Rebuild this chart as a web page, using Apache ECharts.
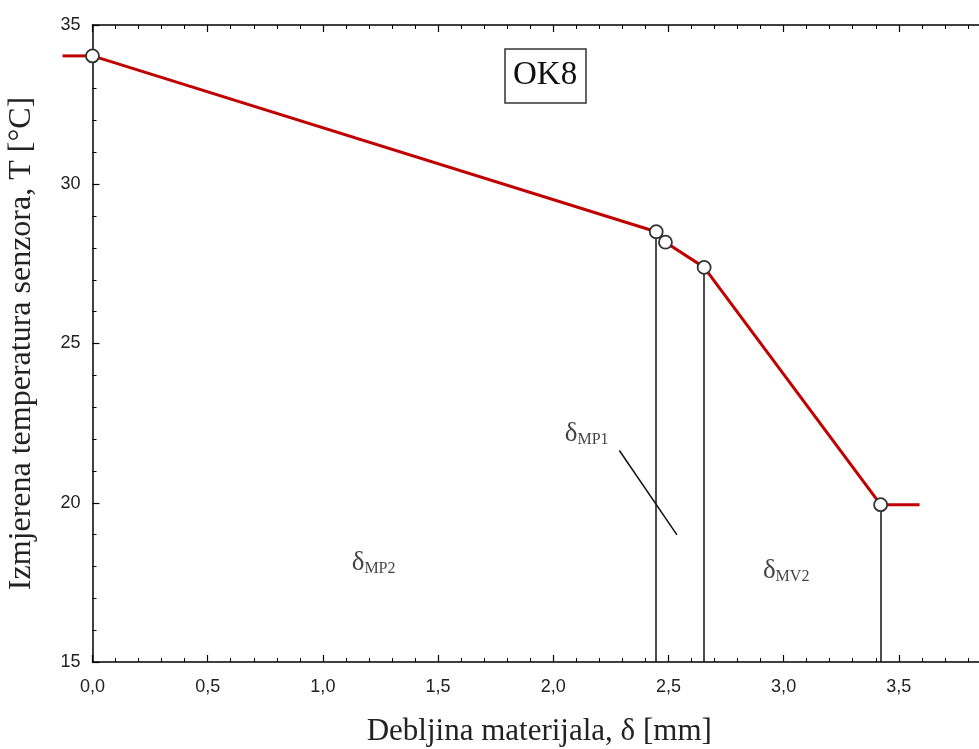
<!DOCTYPE html>
<html>
<head>
<meta charset="utf-8">
<script src="https://cdn.jsdelivr.net/npm/echarts@6/dist/echarts.min.js"></script>
<style>
  html, body { margin: 0; padding: 0; background: #fff; }
  #chart { width: 979px; height: 749px; }
</style>
</head>
<body>
<div id="chart"></div>
<script>
// measured points (thickness in mm, sensor temperature in °C)
const thickness = [0, 2.447, 2.487, 2.655, 3.421]
const temperature = [34.03, 28.51, 28.18, 27.39, 19.94]
// flat ends of the red curve, outside the measured range
const leftEnd = [-0.13, 34.03]
const rightEnd = [3.59, 19.94]
// points that get a drop line down to the x axis
const dropIdx = [1, 3, 4]
// leader line next to δMP1
const pointerFrom = [2.287, 21.64]
const pointerTo = [2.537, 18.99]
// region labels: x, y, subscript
const regionLabels = [
  [2.05, 22.15, "MP1"],
  [1.125, 18.1, "MP2"],
  [2.91, 17.85, "MV2"],
]
const xTicks = { min: 0, max: 4, interval: 0.5 }
const yTicks = { min: 15, max: 35, interval: 5 }

const serif = "'Liberation Serif', 'DejaVu Serif', serif"
const sans = "'Liberation Sans', Arial, sans-serif"
const red = "#c00000"

let myChart = echarts.init(document.getElementById("chart"))

const curve = thickness.map((x, i) => [x, temperature[i]]).concat([rightEnd])

const axisBase = {
  type: "value",
  axisLine: { show: true, lineStyle: { color: "#000", width: 1.5 } },
  axisTick: { show: true, inside: true, length: 7, lineStyle: { color: "#000", width: 1.2 } },
  minorTick: { show: true, splitNumber: 5, length: 4, lineStyle: { color: "#000", width: 1 } },
  splitLine: { show: false },
}

myChart.setOption({
  animation: false,
  grid: { left: 92.5, right: -35, top: 25, bottom: 87, outerBoundsMode: "none" },
  xAxis: [
    Object.assign({}, axisBase, {
      min: xTicks.min,
      max: xTicks.max,
      interval: xTicks.interval,
      position: "bottom",
      axisLabel: {
        color: "#222",
        fontFamily: sans,
        fontSize: 18,
        margin: 16,
        formatter: (v) => v.toFixed(1).replace(".", ","),
      },
      name: "Debljina materijala, δ [mm]",
      nameLocation: "middle",
      nameGap: 54,
      nameTextStyle: { fontFamily: serif, fontSize: 31, color: "#222", padding: [0, 28, 0, 0] },
    }),
    Object.assign({}, axisBase, {
      min: xTicks.min,
      max: xTicks.max,
      interval: xTicks.interval,
      position: "top",
      axisLabel: { show: false },
    }),
  ],
  yAxis: Object.assign({}, axisBase, {
    min: yTicks.min,
    max: yTicks.max,
    interval: yTicks.interval,
    axisLabel: { color: "#222", fontFamily: sans, fontSize: 18, margin: 12 },
    name: "Izmjerena temperatura senzora, T [°C]",
    nameLocation: "middle",
    nameGap: 49,
    nameTextStyle: { fontFamily: serif, fontSize: 32, color: "#222", padding: [0, 0, 6, 0] },
  }),
  title: {
    text: "OK8",
    left: 505,
    top: 49,
    padding: [10, 9, 11, 8],
    borderColor: "#333",
    borderWidth: 1.5,
    textStyle: { fontFamily: serif, fontSize: 33, fontWeight: "normal", color: "#111" },
  },
  series: [
    {
      type: "line",
      data: curve,
      clip: false,
      showSymbol: false,
      lineStyle: { color: red, width: 3 },
      z: 3,
      markLine: {
        silent: true,
        symbol: "none",
        label: { show: false },
        lineStyle: { color: "#111", width: 1.5, type: "solid" },
        data: dropIdx
          .map((i) => [{ coord: [thickness[i], temperature[i]] }, { coord: [thickness[i], yTicks.min] }])
          .concat([[{ coord: pointerFrom }, { coord: pointerTo }]]),
      },
    },
    {
      // flat red stub left of the axis (outside the grid, so drawn by hand through api.coord)
      type: "custom",
      clip: false,
      silent: true,
      z: 3,
      data: [[leftEnd[0], leftEnd[1], thickness[0], temperature[0]]],
      renderItem: (params, api) => {
        const a = api.coord([api.value(0), api.value(1)])
        const b = api.coord([api.value(2), api.value(3)])
        return {
          type: "line",
          shape: { x1: a[0], y1: a[1], x2: b[0], y2: b[1] },
          style: { stroke: red, lineWidth: 3 },
        }
      },
    },
    {
      type: "scatter",
      data: thickness.map((x, i) => [x, temperature[i]]),
      symbol: "circle",
      symbolSize: 13,
      clip: false,
      itemStyle: { color: "#fff", borderColor: "#333", borderWidth: 1.8, opacity: 1 },
      z: 5,
    },
    {
      type: "scatter",
      data: regionLabels,
      symbolSize: 0,
      silent: true,
      label: {
        show: true,
        position: [0, 0],
        align: "left",
        verticalAlign: "middle",
        formatter: (p) => "{d|δ}{s|" + p.data[2] + "}",
        rich: {
          d: { fontFamily: serif, fontSize: 27, color: "#111", verticalAlign: "top", lineHeight: 28 },
          s: { fontFamily: serif, fontSize: 16, color: "#111", verticalAlign: "bottom", lineHeight: 28, padding: [15, 0, 0, 0] },
        },
      },
    },
  ],
})

window.addEventListener("resize", () => {
  myChart.resize()
})
</script>
</body>
</html>
